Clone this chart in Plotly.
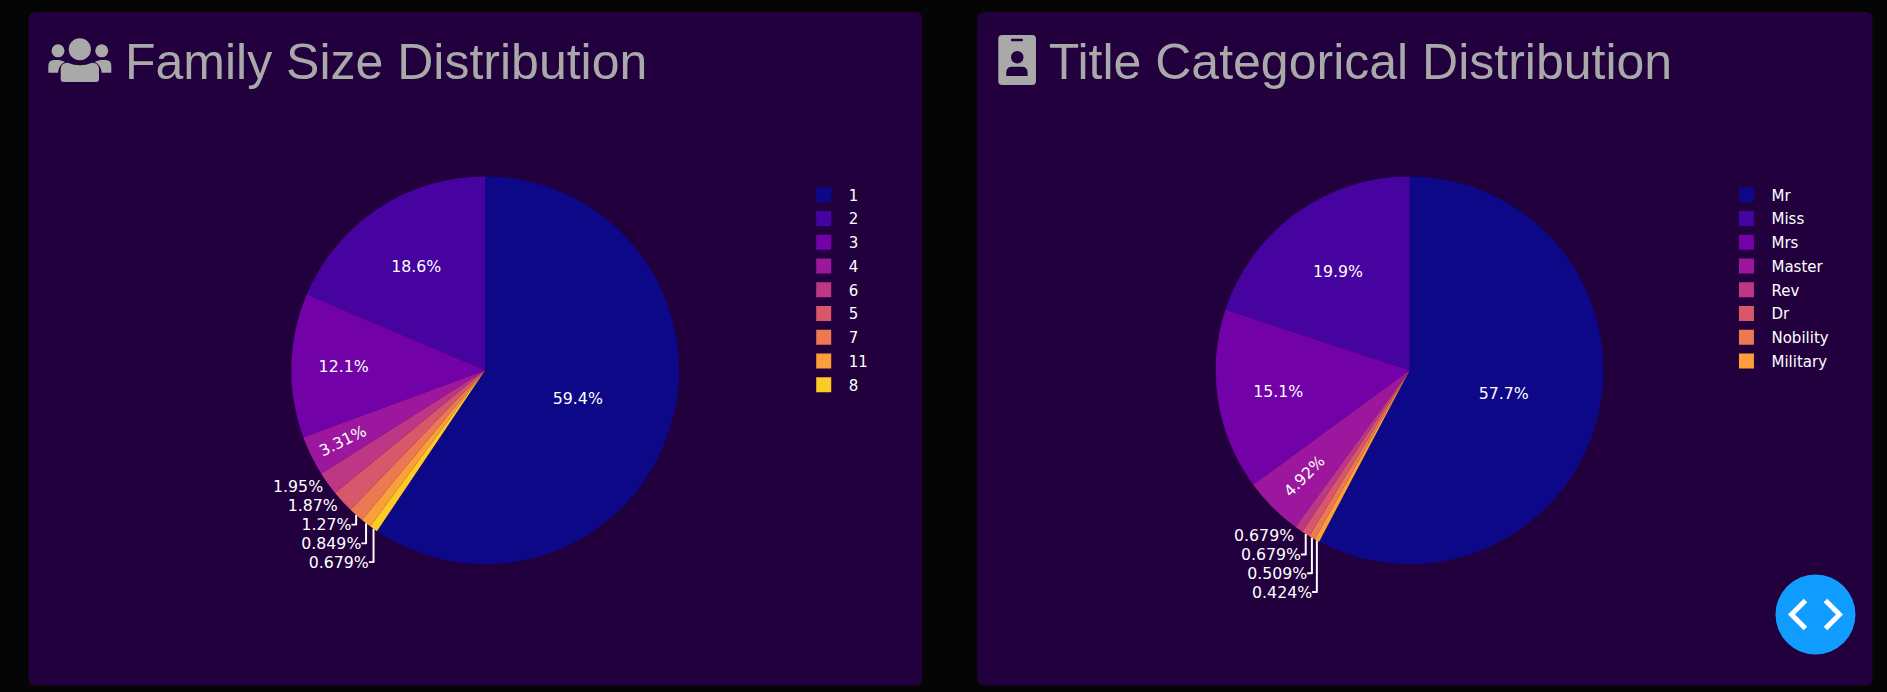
import plotly.graph_objects as go

W, H = 1887, 692
SCALE = 1.25

family_labels = ["1", "2", "3", "4", "6", "5", "7", "11", "8"]
family_values = [700, 219, 142, 39, 23, 22, 15, 10, 8]
title_labels = ["Mr", "Miss", "Mrs", "Master", "Rev", "Dr", "Nobility", "Military"]
title_values = [680, 235, 178, 58, 8, 8, 6, 5]
plasma = ["#0d0887", "#46039f", "#7201a8", "#9c179e", "#bd3786", "#d8576b", "#ed7953", "#fb9f3a", "#fdca26"]

PAGE = "#050505"
CARD = "#21003d"
GREY = "#a9a9a9"
FONT = "Verdana, 'DejaVu Sans', sans-serif"


def fx(x):
    return x / W


def fy(y):
    return 1 - y / H


def path(cmds):
    out = []
    for c in cmds:
        op, pts = c[0], c[1:]
        out.append(op + " ".join(f"{fx(px):.5f},{fy(py):.5f}" for px, py in pts))
    return " ".join(out) + " Z"


def rrect(x0, y0, x1, y1, r):
    return path([
        ("M", (x0 + r, y0)), ("L", (x1 - r, y0)), ("Q", (x1, y0), (x1, y0 + r)),
        ("L", (x1, y1 - r)), ("Q", (x1, y1), (x1 - r, y1)),
        ("L", (x0 + r, y1)), ("Q", (x0, y1), (x0, y1 - r)),
        ("L", (x0, y0 + r)), ("Q", (x0, y0), (x0 + r, y0)),
    ])


def filled(p, color):
    return dict(type="path", xref="paper", yref="paper", path=p, fillcolor=color, line=dict(width=0), layer="below")


def circle(cx, cy, r, color, layer="below"):
    return dict(type="circle", xref="paper", yref="paper", x0=fx(cx - r), x1=fx(cx + r), y0=fy(cy + r), y1=fy(cy - r),
                fillcolor=color, line=dict(width=0), layer=layer)


def body(x0, y0, x1, y1):
    m = (x0 + x1) / 2
    return path([
        ("M", (x0 + 3, y1)), ("Q", (x0, y1), (x0, y1 - 3)), ("L", (x0, y0 + 7)),
        ("Q", (x0, y0), (x0 + 7, y0)), ("Q", (m, y0 + 5), (x1 - 7, y0)),
        ("Q", (x1, y0), (x1, y0 + 7)), ("L", (x1, y1 - 3)), ("Q", (x1, y1), (x1 - 3, y1)),
    ])


shapes = [
    filled(rrect(28.5, 12, 922, 685, 7), CARD),
    filled(rrect(977, 12, 1872, 685, 7), CARD),
    circle(79.8, 49.2, 11.1, GREY), circle(58, 50.8, 6.5, GREY), circle(101.7, 50.8, 6.5, GREY),
    filled(body(60.7, 62.7, 99, 82), GREY),
    filled(path([("M", (48.3, 72.7)), ("L", (48.3, 66)), ("Q", (48.3, 60), (54, 60)), ("L", (59, 60)),
                 ("Q", (62, 60.5), (65, 62)), ("Q", (58.5, 65), (58, 72.7))]), GREY),
    filled(path([("M", (111.3, 72.7)), ("L", (111.3, 66)), ("Q", (111.3, 60), (105.6, 60)), ("L", (100.6, 60)),
                 ("Q", (97.6, 60.5), (94.6, 62)), ("Q", (101.1, 65), (101.6, 72.7))]), GREY),
    filled(rrect(998, 35, 1035.7, 85, 4), GREY),
    filled(rrect(1010.7, 38.7, 1022.7, 41.3, 1), CARD),
    circle(1017, 57.2, 6.2, CARD),
    filled(path([("M", (1006, 76)), ("L", (1006, 72.5)), ("Q", (1006, 66.7), (1012, 66.7)), ("L", (1021.5, 66.7)),
                 ("Q", (1027.3, 66.7), (1027.3, 72.5)), ("L", (1027.3, 76))]), CARD),
    circle(1815, 614, 40, "#119dff", layer="above"),
    dict(type="path", xref="paper", yref="paper", layer="above", line=dict(color="white", width=4),
         path=f"M{fx(1805):.5f},{fy(600):.5f} L{fx(1791):.5f},{fy(614):.5f} L{fx(1805):.5f},{fy(628):.5f}"),
    dict(type="path", xref="paper", yref="paper", layer="above", line=dict(color="white", width=4),
         path=f"M{fx(1825):.5f},{fy(600):.5f} L{fx(1839):.5f},{fy(614):.5f} L{fx(1825):.5f},{fy(628):.5f}"),
]


def domain(cx, cy, r):
    return dict(x=[fx(cx - r), fx(cx + r)], y=[fy(cy + r), fy(cy - r)])


PIE_TEXT = dict(color="white", size=12.6, family=FONT)


def pie(labels, values, cx, legend):
    return go.Pie(labels=labels, values=values, domain=domain(cx, 370, 193.8), legend=legend,
                  marker=dict(colors=plasma[:len(labels)]), textinfo="percent", sort=True,
                  textfont=PIE_TEXT, outsidetextfont=PIE_TEXT, insidetextfont=PIE_TEXT)


fig = go.Figure([pie(family_labels, family_values, 485, "legend"),
                 pie(title_labels, title_values, 1409.2, "legend2")])

legend_style = dict(font=dict(color="white", size=12, family=FONT), bgcolor="rgba(0,0,0,0)",
                    xanchor="left", yanchor="top", traceorder="normal")
titles = [("Family Size Distribution", 123), ("Title Categorical Distribution", 1046)]
fig.update_layout(
    width=W / SCALE, height=H / SCALE, autosize=False,
    margin=dict(l=0, r=0, t=0, b=0),
    paper_bgcolor=PAGE, plot_bgcolor=PAGE,
    showlegend=True,
    legend=dict(x=fx(798.5), y=fy(176.5), **legend_style),
    legend2=dict(x=fx(1721), y=fy(176.5), **legend_style),
    shapes=shapes,
    annotations=[dict(text=t, x=fx(x), y=fy(76), xref="paper", yref="paper", xanchor="left", yanchor="bottom",
                      yshift=-12, showarrow=False,
                      font=dict(family="'Liberation Sans', Arial, sans-serif", size=40, color=GREY))
                 for t, x in titles],
)

fig.write_html(
    "out.html",
    config=dict(displayModeBar=False),
    post_script=(
        "document.documentElement.style.background='%s';"
        "document.body.style.margin='0';document.body.style.overflow='hidden';"
        "document.body.style.background='%s';"
        "var g=document.getElementById('{plot_id}');"
        "g.style.transformOrigin='0 0';g.style.transform='scale(%s)';" % (PAGE, PAGE, SCALE)
    ),
)
